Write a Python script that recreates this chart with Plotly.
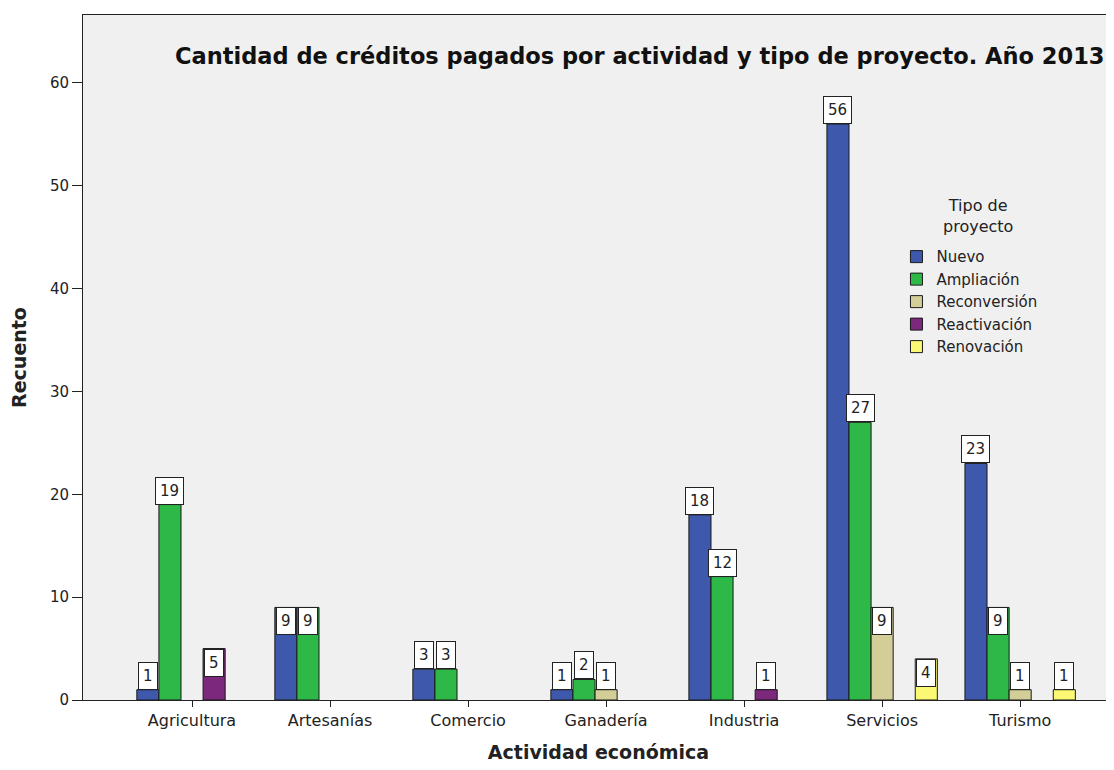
import plotly.graph_objects as go

# Cantidad de créditos por actividad económica y tipo de proyecto (2013)
actividades = ["Agricultura", "Artesanías", "Comercio", "Ganadería", "Industria", "Servicios", "Turismo"]
tipos = ["Nuevo", "Ampliación", "Reconversión", "Reactivación", "Renovación"]

nuevo = [1, 9, 3, 1, 18, 56, 23]
ampliacion = [19, 9, 3, 2, 12, 27, 9]
reconversion = [None, None, None, 1, None, 9, 1]
reactivacion = [5, None, None, None, 1, None, None]
renovacion = [None, None, None, None, None, 4, 1]

series = [nuevo, ampliacion, reconversion, reactivacion, renovacion]
colores = ["#3E58AC", "#2EB848", "#D3CE97", "#7C287D", "#FBF873"]

FUENTE = "DejaVu Sans, Arial"

fig = go.Figure()
for nombre, vals, col in zip(tipos, series, colores):
    fig.add_trace(go.Bar(
        x=actividades, y=vals, name=nombre,
        marker=dict(color=col, line=dict(color="#1a1a1a", width=1)),
    ))

# etiquetas en recuadro blanco, estilo SPSS
ancho = 0.8 / len(tipos)
for j, vals in enumerate(series):
    for i, v in enumerate(vals):
        if not v:
            continue
        dentro = 4 <= v <= 9
        fig.add_annotation(
            x=i + (j - 2) * ancho, y=v, xref="x", yref="y",
            text=str(v), showarrow=False,
            yanchor="top" if dentro else "bottom",
            font=dict(family=FUENTE, size=15, color="#222"),
            bgcolor="white", bordercolor="#222", borderwidth=1, borderpad=4,
        )

fig.add_annotation(
    x=0.54, y=0.94, xref="paper", yref="paper", showarrow=False,
    xanchor="center", yanchor="middle",
    text="<b>Cantidad de créditos pagados por actividad y tipo de proyecto. Año 2013</b>",
    font=dict(family=FUENTE, size=22.5, color="#111"),
)
# título de la leyenda, centrado
fig.add_annotation(
    x=0.868, y=0.707, xref="paper", yref="paper", showarrow=False,
    xanchor="center", yanchor="middle",
    text="Tipo de<br>proyecto", align="center",
    font=dict(family=FUENTE, size=16, color="#222"),
)

fig.update_layout(
    width=1106, height=762,
    margin=dict(l=75, r=0, t=7, b=70),
    barmode="group", bargap=0.2, bargroupgap=0,
    paper_bgcolor="white", plot_bgcolor="#F0F0F0",
    font=dict(family=FUENTE, size=15, color="#222"),
    legend=dict(
        x=0.789, y=0.671, xanchor="left", yanchor="top",
        bgcolor="rgba(0,0,0,0)", font=dict(size=15),
        tracegroupgap=0, itemwidth=30,
    ),
    xaxis=dict(
        type="category", range=[-0.79, 6.68], automargin=False,
        showline=True, linecolor="#222", linewidth=1, mirror=True,
        ticks="outside", ticklen=6, tickcolor="#222",
        showgrid=False, tickfont=dict(size=16),
        title=dict(text="<b>Actividad económica</b>", font=dict(size=19), standoff=16),
    ),
    yaxis=dict(
        range=[0, 66.6], dtick=10, automargin=False,
        showline=True, linecolor="#222", linewidth=1, mirror=True,
        ticks="outside", ticklen=10, tickcolor="#222",
        showgrid=False, zeroline=False, tickfont=dict(size=15),
        title=dict(text="<b>Recuento</b>", font=dict(size=19), standoff=28),
    ),
)

fig.write_html("out.html")
